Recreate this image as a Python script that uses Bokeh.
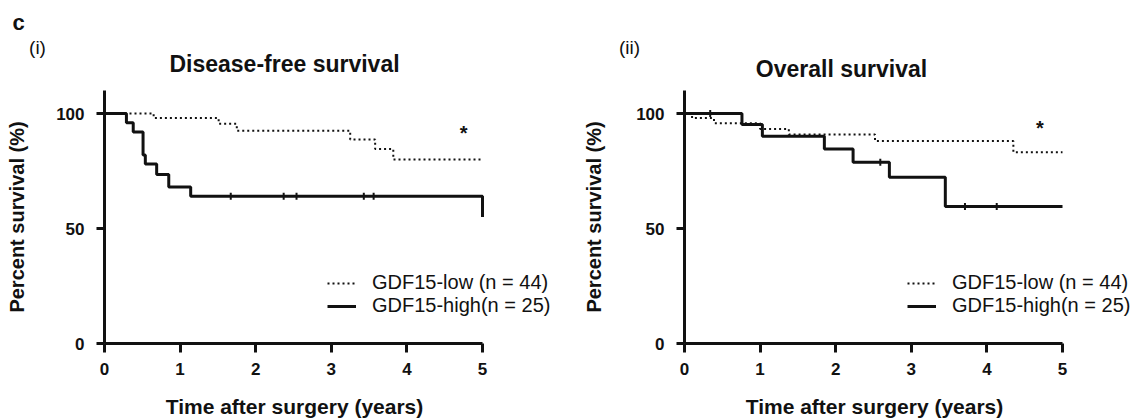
import numpy as np
from bokeh.plotting import figure
from bokeh.models import Range1d, FixedTicker, Legend, LegendItem
from bokeh.layouts import row, column
from bokeh.core.properties import value
from bokeh.embed import file_html
from bokeh.resources import INLINE

# ---------------- data ----------------
x_ticks = [0, 1, 2, 3, 4, 5]
y_ticks = [0, 50, 100]

# (i) Disease-free survival
dfs_low_t = [0, 0.65, 1.51, 1.75, 3.25, 3.58, 3.82, 5.0]
dfs_low_s = [100, 98, 95.5, 92.5, 88.7, 84.6, 80, 80]
dfs_high_t = [0, 0.29, 0.38, 0.51, 0.54, 0.69, 0.85, 1.14, 5.0]
dfs_high_s = [100, 96, 92, 82, 78, 73.5, 68, 64, 55]
dfs_high_cens_t = [1.67, 2.37, 2.54, 3.43, 3.56]
dfs_high_cens_s = [64, 64, 64, 64, 64]

# (ii) Overall survival
os_low_t = [0, 0.1, 0.39, 1.0, 1.38, 2.52, 4.35, 5.0]
os_low_s = [100, 98, 95.8, 93.3, 90.9, 88.0, 83.2, 83.2]
os_high_t = [0, 0.76, 1.03, 1.85, 2.23, 2.71, 3.45, 5.0]
os_high_s = [100, 95.2, 90.1, 84.6, 78.8, 72.3, 59.6, 59.6]
os_high_cens_t = [0.34, 2.59, 3.71, 4.13]
os_high_cens_s = [100, 78.8, 59.6, 59.6]

low_label = "GDF15-low (n = 44)"
high_label = "GDF15-high(n = 25)"
panel_titles = ["Disease-free survival", "Overall survival"]
panel_tags = ["(i)", "(ii)"]
figure_tag = "c"
x_title = "Time after surgery (years)"
y_title = "Percent survival (%)"

FONT = "Liberation Sans"
INK = "#111111"
PX_PER_YEAR = 75.6          # frame scale: 378 px for 5 years
TOTAL_W = 1138


def strip(height):
    s = figure(output_backend="svg", toolbar_location=None,
               width=TOTAL_W, height=height, min_border=0,
               x_range=Range1d(0, TOTAL_W), y_range=Range1d(height, 0),
               x_axis_type=None, y_axis_type=None,
               background_fill_color="white", border_fill_color="white")
    s.outline_line_color = None
    s.grid.visible = False
    return s


def panel(low_t, low_s, high_t, high_s, cens_t, cens_s,
          b_left, frame_w, ylab_standoff, star_pos):
    p = figure(output_backend="svg", toolbar_location=None,
               frame_width=frame_w, frame_height=253,
               min_border_left=b_left, min_border_right=0,
               min_border_top=10, min_border_bottom=41,
               x_range=Range1d(0, frame_w / PX_PER_YEAR),
               y_range=Range1d(0, 110),
               background_fill_color="white", border_fill_color="white")
    p.outline_line_color = None
    p.grid.visible = False

    for ax, ticks in ((p.xaxis[0], x_ticks), (p.yaxis[0], y_ticks)):
        ax.ticker = FixedTicker(ticks=ticks)
        ax.minor_tick_line_color = None
        ax.axis_line_width = 3
        ax.axis_line_color = INK
        ax.major_tick_line_width = 3
        ax.major_tick_line_color = INK
        ax.major_tick_in = 0
        ax.major_label_text_font = FONT
        ax.major_label_text_font_style = "bold"
        ax.major_label_text_font_size = "17px"
        ax.major_label_text_color = INK
        ax.axis_label_text_font = FONT
        ax.axis_label_text_font_style = "bold"
        ax.axis_label_text_font_size = "20px"
        ax.axis_label_text_color = INK
    p.xaxis.bounds = (0, 5)
    p.xaxis.major_tick_out = 9
    p.yaxis.major_tick_out = 8
    p.xaxis.major_label_standoff = 10
    p.yaxis.major_label_standoff = 12
    p.yaxis.axis_label = y_title
    p.yaxis.axis_label_standoff = ylab_standoff

    r_low = p.step(low_t, low_s, mode="after", line_color=INK,
                   line_width=2, line_dash="2 3")
    r_high = p.step(high_t, high_s, mode="after", line_color=INK,
                    line_width=3)
    p.scatter(cens_t, cens_s, marker="dash", angle=np.pi / 2, size=7,
              line_color=INK, line_width=2)

    leg = Legend(items=[LegendItem(label=low_label, renderers=[r_low]),
                        LegendItem(label=high_label, renderers=[r_high])],
                 location=(223, 26))
    leg.border_line_color = None
    leg.background_fill_alpha = 0
    leg.padding = 0
    leg.margin = 0
    leg.spacing = 0
    leg.glyph_width = 29
    leg.glyph_height = 20
    leg.label_height = 20
    leg.label_standoff = 16
    leg.label_text_font = FONT
    leg.label_text_font_size = "20px"
    leg.label_text_color = INK
    p.add_layout(leg, "center")

    p.text(x=[star_pos[0]], y=[star_pos[1]], text=["*"],
           text_align="center", text_baseline="middle",
           text_font=value(FONT), text_font_style="bold",
           text_font_size=value("20px"), text_color=INK)
    return p


p1 = panel(dfs_low_t, dfs_low_s, dfs_high_t, dfs_high_s,
           dfs_high_cens_t, dfs_high_cens_s,
           b_left=104, frame_w=466, ylab_standoff=25,
           star_pos=(4.75, 91.5))
p2 = panel(os_low_t, os_low_s, os_high_t, os_high_s,
           os_high_cens_t, os_high_cens_s,
           b_left=114, frame_w=454, ylab_standoff=28,
           star_pos=(4.70, 93.7))

# header strip: figure tag, panel tags and panel titles
top = strip(80)
top.text(x=[18], y=[22], text=[figure_tag], text_align="center",
         text_baseline="middle", text_font=value(FONT),
         text_font_style="bold", text_font_size=value("22px"),
         text_color=INK)
top.text(x=[37, 629], y=[47, 47], text=panel_tags, text_align="center",
         text_baseline="middle", text_font=value(FONT),
         text_font_size=value("19px"), text_color=INK)
top.text(x=[284, 841], y=[63, 68], text=panel_titles, text_align="center",
         text_baseline="middle", text_font=value(FONT),
         text_font_style="bold", text_font_size=value("23px"),
         text_color=INK)

# footer strip: x-axis titles
bottom = strip(34)
bottom.text(x=[294, 874], y=[22, 22], text=[x_title, x_title],
            text_align="center", text_baseline="middle",
            text_font=value(FONT), text_font_style="bold",
            text_font_size=value("21px"), text_color=INK)

layout = column(top, row(p1, p2), bottom)
open("out.html", "w").write(file_html(layout, INLINE))
